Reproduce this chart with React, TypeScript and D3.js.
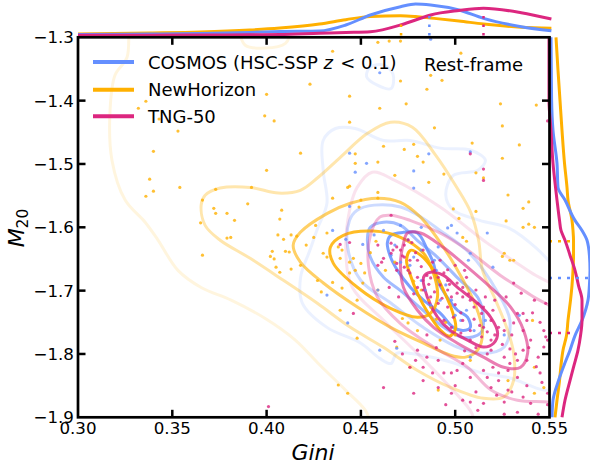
import React from 'react';
import * as d3 from 'd3';

// ---------- axis ticks ----------
const giniTicks = [0.3, 0.35, 0.4, 0.45, 0.5, 0.55];
const giniTickLabels = ['0.30', '0.35', '0.40', '0.45', '0.50', '0.55'];
const m20Ticks = [-1.3, -1.4, -1.5, -1.6, -1.7, -1.8, -1.9];
const m20TickLabels = ['\u22121.3', '\u22121.4', '\u22121.5', '\u22121.6', '\u22121.7', '\u22121.8', '\u22121.9'];

// ---------- samples: [Gini, M20] ----------
const cosmosPoints: [number, number][] = [
  [0.444, -1.483], [0.453, -1.499], [0.447, -1.513], [0.478, -1.511], [0.478, -1.538], [0.486, -1.484],
  [0.508, -1.481], [0.444, -1.567], [0.435, -1.605], [0.451, -1.627], [0.442, -1.619], [0.457, -1.612],
  [0.462, -1.605], [0.471, -1.597], [0.482, -1.6], [0.478, -1.647], [0.489, -1.652], [0.507, -1.652],
  [0.517, -1.609], [0.508, -1.641], [0.52, -1.663], [0.46, -1.356], [0.487, -1.303], [0.501, -1.609],
  [0.432, -1.707], [0.443, -1.751], [0.46, -1.794], [0.469, -1.791], [0.459, -1.699], [0.498, -1.597],
  [0.534, -1.739], [0.526, -1.77], [0.508, -1.805], [0.496, -1.601], [0.471, -1.655], [0.476, -1.66],
  [0.482, -1.684], [0.484, -1.699], [0.49, -1.668], [0.492, -1.715], [0.498, -1.715], [0.5, -1.739],
  [0.503, -1.747], [0.482, -1.636], [0.468, -1.628], [0.495, -1.691], [0.506, -1.731], [0.487, -1.723],
  [0.466, -1.644], [0.51, -1.763], [0.516, -1.747], [0.491, -1.631], [0.475, -1.62],
];

const newHorizonPoints: [number, number][] = [
  [0.336, -1.401], [0.332, -1.412], [0.343, -1.429], [0.353, -1.448], [0.34, -1.48], [0.338, -1.524],
  [0.34, -1.543], [0.336, -1.551], [0.354, -1.537], [0.373, -1.54], [0.366, -1.557], [0.372, -1.57],
  [0.373, -1.578], [0.379, -1.578], [0.39, -1.563], [0.392, -1.537], [0.4, -1.51], [0.418, -1.483],
  [0.408, -1.573], [0.407, -1.587], [0.383, -1.589], [0.365, -1.593], [0.423, -1.374], [0.4, -1.39],
  [0.399, -1.424], [0.404, -1.432], [0.379, -1.617], [0.381, -1.616], [0.366, -1.644], [0.406, -1.612],
  [0.409, -1.619], [0.413, -1.612], [0.403, -1.638], [0.41, -1.638], [0.412, -1.639], [0.402, -1.646],
  [0.404, -1.65], [0.405, -1.663], [0.407, -1.671], [0.413, -1.666], [0.425, -1.616], [0.426, -1.597],
  [0.427, -1.684], [0.459, -1.308], [0.465, -1.306], [0.471, -1.306], [0.435, -1.322], [0.503, -1.325],
  [0.485, -1.382], [0.493, -1.368], [0.487, -1.36], [0.471, -1.369], [0.444, -1.393], [0.474, -1.405],
  [0.46, -1.412], [0.524, -1.405], [0.543, -1.407], [0.444, -1.434], [0.525, -1.44], [0.489, -1.443],
  [0.462, -1.472], [0.473, -1.477], [0.478, -1.469], [0.48, -1.488], [0.483, -1.497], [0.447, -1.484],
  [0.447, -1.499], [0.459, -1.497], [0.468, -1.518], [0.444, -1.535], [0.486, -1.529], [0.494, -1.516],
  [0.511, -1.514], [0.534, -1.47], [0.525, -1.491], [0.539, -1.56], [0.528, -1.549], [0.45, -1.557],
  [0.459, -1.545], [0.509, -1.467], [0.515, -1.522], [0.536, -1.57], [0.527, -1.59], [0.536, -1.6],
  [0.539, -1.595], [0.511, -1.575], [0.499, -1.571], [0.502, -1.586], [0.435, -1.554], [0.443, -1.537],
  [0.459, -1.554], [0.449, -1.568], [0.432, -1.609], [0.525, -1.646], [0.531, -1.652], [0.504, -1.616],
  [0.506, -1.622], [0.416, -1.614], [0.43, -1.641], [0.432, -1.647], [0.438, -1.631], [0.44, -1.636],
  [0.439, -1.649], [0.444, -1.655], [0.446, -1.649], [0.45, -1.657], [0.444, -1.672], [0.447, -1.668],
  [0.452, -1.672], [0.451, -1.688], [0.435, -1.687], [0.44, -1.696], [0.429, -1.702], [0.448, -1.715],
  [0.459, -1.699], [0.439, -1.731], [0.448, -1.775], [0.443, -1.862], [0.438, -1.849], [0.472, -1.744],
  [0.475, -1.751], [0.48, -1.763], [0.469, -1.789], [0.476, -1.821], [0.491, -1.857], [0.508, -1.81],
  [0.528, -1.842], [0.542, -1.862], [0.541, -1.747], [0.542, -1.6], [0.526, -1.641], [0.529, -1.652],
  [0.542, -1.821], [0.547, -1.853], [0.486, -1.715], [0.487, -1.726], [0.495, -1.75], [0.5, -1.77],
  [0.492, -1.778], [0.482, -1.699], [0.468, -1.655], [0.463, -1.668], [0.455, -1.64], [0.458, -1.622],
  [0.421, -1.628], [0.418, -1.66], [0.478, -1.685], [0.49, -1.745],
];

const tngPoints: [number, number][] = [
  [0.439, -1.627], [0.444, -1.624], [0.446, -1.736], [0.459, -1.66], [0.461, -1.655], [0.466, -1.641],
  [0.467, -1.636], [0.469, -1.631], [0.473, -1.628], [0.475, -1.62], [0.477, -1.624], [0.469, -1.657],
  [0.473, -1.663], [0.475, -1.668], [0.476, -1.672], [0.48, -1.679], [0.483, -1.684], [0.485, -1.676],
  [0.487, -1.68], [0.491, -1.679], [0.494, -1.672], [0.492, -1.691], [0.496, -1.699], [0.498, -1.71],
  [0.501, -1.704], [0.504, -1.695], [0.508, -1.715], [0.512, -1.72], [0.515, -1.726], [0.514, -1.736],
  [0.519, -1.747], [0.523, -1.758], [0.515, -1.758], [0.508, -1.763], [0.504, -1.747], [0.499, -1.742],
  [0.496, -1.726], [0.491, -1.72], [0.487, -1.71], [0.483, -1.699], [0.48, -1.695], [0.494, -1.747],
  [0.498, -1.758], [0.503, -1.767], [0.508, -1.778], [0.514, -1.773], [0.519, -1.778], [0.526, -1.763],
  [0.531, -1.751], [0.536, -1.736], [0.538, -1.747], [0.547, -1.763], [0.548, -1.773], [0.547, -1.789],
  [0.544, -1.805], [0.536, -1.794], [0.533, -1.81], [0.526, -1.805], [0.52, -1.821], [0.515, -1.826],
  [0.517, -1.837], [0.523, -1.83], [0.528, -1.826], [0.533, -1.837], [0.538, -1.81], [0.545, -1.83],
  [0.508, -1.837], [0.504, -1.815], [0.501, -1.826], [0.498, -1.83], [0.491, -1.81], [0.485, -1.805],
  [0.483, -1.821], [0.48, -1.794], [0.476, -1.821], [0.462, -1.853], [0.483, -1.842], [0.491, -1.853],
  [0.498, -1.862], [0.508, -1.876], [0.515, -1.878], [0.526, -1.876], [0.533, -1.892], [0.54, -1.878],
  [0.549, -1.862], [0.466, -1.625], [0.471, -1.636], [0.473, -1.647], [0.469, -1.668], [0.476, -1.652],
  [0.483, -1.636], [0.489, -1.668], [0.496, -1.684], [0.501, -1.688], [0.504, -1.71], [0.51, -1.726],
  [0.52, -1.731], [0.526, -1.747], [0.533, -1.736], [0.536, -1.763], [0.54, -1.778], [0.549, -1.778],
  [0.529, -1.815], [0.523, -1.842], [0.519, -1.853], [0.528, -1.857], [0.536, -1.868], [0.504, -1.873],
  [0.512, -1.889], [0.519, -1.794], [0.466, -1.581], [0.459, -1.628], [0.462, -1.649], [0.48, -1.652],
  [0.549, -1.432], [0.515, -1.508], [0.515, -1.526], [0.508, -1.484], [0.401, -1.883], [0.531, -1.688],
  [0.535, -1.704], [0.542, -1.715], [0.527, -1.71], [0.492, -1.652], [0.5, -1.66], [0.506, -1.679],
  [0.511, -1.699], [0.516, -1.71], [0.521, -1.715], [0.482, -1.662], [0.486, -1.69], [0.489, -1.702],
  [0.493, -1.712], [0.497, -1.69], [0.5, -1.722], [0.503, -1.735], [0.507, -1.705], [0.51, -1.745],
  [0.513, -1.755], [0.517, -1.765], [0.521, -1.77], [0.525, -1.785], [0.529, -1.792], [0.532, -1.8],
  [0.517, -1.8], [0.511, -1.79], [0.505, -1.795], [0.53, -1.77], [0.539, -1.79], [0.543, -1.82],
  [0.546, -1.845], [0.538, -1.85], [0.53, -1.86], [0.522, -1.865], [0.511, -1.86], [0.5, -1.85],
  [0.494, -1.83], [0.488, -1.83], [0.479, -1.81], [0.472, -1.8], [0.468, -1.78], [0.485, -1.77],
  [0.49, -1.79], [0.545, -1.75], [0.541, -1.735], [0.548, -1.72], [0.549, -1.88], [0.544, -1.895],
  [0.526, -1.895], [0.495, -1.88], [0.478, -1.862], [0.47, -1.71], [0.465, -1.695], [0.478, -1.705],
  [0.472, -1.645], [0.479, -1.64], [0.488, -1.655], [0.496, -1.667], [0.505, -1.668],
];

// ---------- density contours: level index + closed outline in [Gini, M20] ----------
type Contour = { level: number; pts: [number, number][] };

const cosmosContours: Contour[] = [
  { level: 0, pts: [[0.43, -1.463], [0.4365, -1.444], [0.447, -1.444], [0.462, -1.463], [0.476, -1.463], [0.492, -1.475], [0.508, -1.478], [0.516, -1.494], [0.512, -1.51], [0.499, -1.518], [0.495, -1.549], [0.499, -1.573], [0.513, -1.589], [0.529, -1.602], [0.543, -1.633], [0.553, -1.665], [0.564, -1.715], [0.564, -1.826], [0.551, -1.857], [0.529, -1.838], [0.513, -1.829], [0.498, -1.813], [0.482, -1.802], [0.469, -1.799], [0.466, -1.815], [0.46, -1.807], [0.45, -1.783], [0.432, -1.758], [0.419, -1.72], [0.418, -1.679], [0.423, -1.636], [0.427, -1.602], [0.432, -1.562], [0.43, -1.51]] },
  { level: 0, pts: [[0.455, -1.347], [0.453, -1.362], [0.459, -1.376], [0.466, -1.381], [0.467, -1.358], [0.462, -1.344]] },
  { level: 1, pts: [[0.444, -1.589], [0.448, -1.573], [0.457, -1.565], [0.471, -1.568], [0.482, -1.584], [0.492, -1.605], [0.507, -1.639], [0.522, -1.7], [0.529, -1.747], [0.526, -1.789], [0.515, -1.799], [0.501, -1.789], [0.483, -1.758], [0.466, -1.72], [0.45, -1.684], [0.443, -1.632]] },
  { level: 2, pts: [[0.4535, -1.616], [0.455, -1.6], [0.462, -1.592], [0.471, -1.597], [0.48, -1.621], [0.4905, -1.647], [0.501, -1.679], [0.512, -1.711], [0.515, -1.742], [0.5135, -1.767], [0.504, -1.774], [0.494, -1.758], [0.483, -1.731], [0.471, -1.7], [0.462, -1.679], [0.455, -1.647]] },
  { level: 3, pts: [[0.464, -1.625], [0.4657, -1.613], [0.4725, -1.608], [0.48, -1.609], [0.4853, -1.636], [0.4885, -1.657], [0.4906, -1.684], [0.4959, -1.711], [0.5012, -1.731], [0.5065, -1.742], [0.508, -1.758], [0.5044, -1.763], [0.499, -1.758], [0.4922, -1.736], [0.4832, -1.715], [0.4763, -1.695], [0.4694, -1.668], [0.4657, -1.647]] },
];

const newHorizonContours: Contour[] = [
  { level: 0, pts: [[0.3276, -1.273], [0.326, -1.3316], [0.3196, -1.36], [0.317, -1.415], [0.318, -1.494], [0.325, -1.557], [0.3356, -1.592], [0.3425, -1.6205], [0.353, -1.668], [0.3653, -1.695], [0.3812, -1.715], [0.3993, -1.744], [0.4152, -1.778], [0.4274, -1.815], [0.4418, -1.857], [0.4524, -1.889], [0.4604, -1.936], [0.5878, -1.936], [0.5878, -1.2416], [0.4179, -1.2416], [0.4136, -1.286], [0.41, -1.3095], [0.3993, -1.317], [0.3887, -1.3126], [0.385, -1.286], [0.3807, -1.2416], [0.333, -1.2416]] },
  { level: 1, pts: [[0.3653, -1.565], [0.3674, -1.5495], [0.3754, -1.538], [0.3913, -1.537], [0.4062, -1.546], [0.4179, -1.5416], [0.4274, -1.521], [0.4391, -1.4895], [0.4535, -1.4516], [0.4657, -1.434], [0.4773, -1.442], [0.4896, -1.486], [0.5002, -1.534], [0.5082, -1.576], [0.5124, -1.6205], [0.5145, -1.668], [0.5214, -1.715], [0.5278, -1.7626], [0.531, -1.799], [0.531, -1.8416], [0.5257, -1.868], [0.515, -1.87], [0.4975, -1.8527], [0.48, -1.826], [0.4619, -1.7895], [0.4444, -1.758], [0.4269, -1.72], [0.4089, -1.6837], [0.3913, -1.649], [0.3754, -1.6205], [0.3674, -1.597]] },
  { level: 2, pts: [[0.4141, -1.6284], [0.4179, -1.608], [0.4322, -1.578], [0.4444, -1.562], [0.4588, -1.554], [0.471, -1.5605], [0.4816, -1.584], [0.4938, -1.6316], [0.5028, -1.676], [0.5108, -1.723], [0.5145, -1.767], [0.5119, -1.794], [0.5055, -1.805], [0.4975, -1.802], [0.4832, -1.783], [0.4657, -1.758], [0.4481, -1.726], [0.4301, -1.688], [0.4179, -1.655]] },
  { level: 3, pts: [[0.4338, -1.6316], [0.4407, -1.6126], [0.4566, -1.606], [0.471, -1.6158], [0.4832, -1.641], [0.4885, -1.6726], [0.4906, -1.7105], [0.4869, -1.7358], [0.48, -1.742], [0.4657, -1.728], [0.4481, -1.6947], [0.4354, -1.657]] },
  { level: 4, pts: [[0.4763, -1.6363], [0.4816, -1.644], [0.4885, -1.668], [0.4938, -1.6995], [0.4986, -1.734], [0.5002, -1.7595], [0.497, -1.772], [0.4922, -1.7626], [0.4858, -1.736], [0.4805, -1.7074], [0.4763, -1.676], [0.4742, -1.652]] },
];

const tngContours: Contour[] = [
  { level: 0, pts: [[0.448, -1.537], [0.456, -1.513], [0.468, -1.526], [0.492, -1.568], [0.517, -1.625], [0.54, -1.671], [0.561, -1.715], [0.567, -1.905], [0.5135, -1.921], [0.508, -1.889], [0.494, -1.842], [0.48, -1.799], [0.462, -1.747], [0.4455, -1.695], [0.442, -1.636], [0.444, -1.573]] },
  { level: 1, pts: [[0.46, -1.584], [0.4657, -1.581], [0.476, -1.589], [0.492, -1.609], [0.5065, -1.636], [0.524, -1.676], [0.54, -1.707], [0.5585, -1.747], [0.5585, -1.881], [0.549, -1.876], [0.533, -1.873], [0.519, -1.857], [0.5065, -1.821], [0.4885, -1.789], [0.471, -1.752], [0.4588, -1.7105], [0.454, -1.66], [0.455, -1.613]] },
  { level: 2, pts: [[0.4726, -1.625], [0.4747, -1.609], [0.4816, -1.609], [0.4938, -1.632], [0.5065, -1.663], [0.5188, -1.695], [0.5294, -1.726], [0.5363, -1.763], [0.5384, -1.799], [0.5347, -1.821], [0.5257, -1.821], [0.515, -1.805], [0.5012, -1.783], [0.4885, -1.758], [0.48, -1.731], [0.4726, -1.695], [0.471, -1.657]] },
  { level: 3, pts: [[0.4832, -1.679], [0.4869, -1.671], [0.4938, -1.676], [0.5012, -1.695], [0.5118, -1.72], [0.5188, -1.742], [0.5225, -1.767], [0.5204, -1.783], [0.515, -1.789], [0.5065, -1.778], [0.4975, -1.763], [0.4906, -1.742], [0.4853, -1.711]] },
];

// ---------- marginal densities ----------
const topGini = [0.3, 0.338, 0.365, 0.391, 0.407, 0.428, 0.442, 0.455, 0.471, 0.479, 0.487, 0.502, 0.515, 0.535, 0.551];
const cosmosGiniDensity = [0.03, 0.045, 0.06, 0.09, 0.119, 0.134, 0.313, 0.612, 0.86, 0.94, 0.91, 0.761, 0.513, 0.263, 0.143];
const newHorizonGiniDensity = [0.045, 0.075, 0.104, 0.164, 0.224, 0.343, 0.472, 0.57, 0.591, 0.567, 0.522, 0.433, 0.343, 0.248, 0.215];
const tngGiniDensity = [0.006, 0.009, 0.015, 0.021, 0.027, 0.066, 0.09, 0.113, 0.313, 0.463, 0.612, 0.746, 0.812, 0.681, 0.493];

const sideM20 = [-1.3, -1.352, -1.3995, -1.447, -1.499, -1.537, -1.557, -1.589, -1.605, -1.6205, -1.644, -1.668, -1.692, -1.715, -1.747, -1.771, -1.794, -1.818, -1.842, -1.873, -1.9];
const cosmosM20Density = [0.05, 0.058, 0.065, 0.1, 0.2, 0.225, 0.4, 0.65, 0.825, 0.95, 1.01, 1.025, 1.01, 0.975, 0.825, 0.65, 0.525, 0.375, 0.238, 0.1, 0.075];
const newHorizonM20Density = [0.175, 0.225, 0.275, 0.325, 0.388, 0.45, 0.475, 0.575, 0.6, 0.613, 0.613, 0.6, 0.575, 0.538, 0.475, 0.438, 0.35, 0.3, 0.263, 0.2, 0.15];
const tngM20Density = [0, 0, 0, 0.05, 0.1, 0.163, 0.2, 0.263, 0.3, 0.4, 0.525, 0.65, 0.738, 0.825, 0.825, 0.788, 0.725, 0.625, 0.525, 0.4, 0.325];

// medians marked in the marginals: [value, density height of marker]
const giniMedians: [number, number][] = [[0.4863, 0.612], [0.4713, 0.343], [0.515, 0.612]];
const m20Medians: [number, number][] = [[-1.68, 1.05], [-1.622, 0.6], [-1.767, 0.625]];

const seriesLabels = ['COSMOS', 'NewHorizon', 'TNG-50'];
const colors = ['#648FFF', '#FFB000', '#DC267F'];
const levelOpacity = [0.13, 0.32, 0.6, 0.85, 0.95];

const FONT = 'DejaVu Sans, sans-serif';

export default function App() {
  const W = 590, H = 470;
  const x = d3.scaleLinear().domain([0.3, 0.55]).range([78, 549.5]);
  const y = d3.scaleLinear().domain([-1.3, -1.9]).range([37.3, 417.3]);
  const yTop = d3.scaleLinear().domain([0, 1]).range([35.5, 2]);
  const xSide = d3.scaleLinear().domain([0, 1]).range([549, 589]);

  const contourPath = d3.line<[number, number]>()
    .x((d) => x(d[0]))
    .y((d) => y(d[1]))
    .curve(d3.curveCatmullRomClosed.alpha(0.5));

  const topLine = d3.line<number>()
    .x((_, i) => x(topGini[i]))
    .y((d) => yTop(d))
    .curve(d3.curveMonotoneX);
  const sideLine = d3.line<number>()
    .x((d) => xSide(d))
    .y((_, i) => y(sideM20[i]))
    .curve(d3.curveMonotoneY);

  const contourSets = [cosmosContours, newHorizonContours, tngContours];
  const pointSets = [newHorizonPoints, cosmosPoints, tngPoints];
  const pointColors = [colors[1], colors[0], colors[2]];
  const topDens = [cosmosGiniDensity, newHorizonGiniDensity, tngGiniDensity];
  const sideDens = [cosmosM20Density, newHorizonM20Density, tngM20Density];

  const [xa, xb] = x.range();
  const [ya, yb] = y.range();

  return (
    <svg width={W} height={H} style={{ position: 'absolute', left: 0, top: 0, background: '#fff' }}
      fontFamily={FONT}>
      <defs>
        <clipPath id="plotArea">
          <rect x={xa} y={ya} width={xb - xa} height={yb - ya} />
        </clipPath>
      </defs>

      {/* contours */}
      <g clipPath="url(#plotArea)" fill="none" strokeWidth={3} strokeLinejoin="round">
        {contourSets.map((set, si) => (
          <g key={si} stroke={colors[si]}>
            {set.map((c, ci) => (
              <path key={ci} d={contourPath(c.pts) || ''} strokeOpacity={levelOpacity[c.level]} />
            ))}
          </g>
        ))}
      </g>

      {/* points */}
      <g clipPath="url(#plotArea)">
        {pointSets.map((pts, si) => (
          <g key={si} fill={pointColors[si]} fillOpacity={0.8}>
            {pts.map((p, i) => (
              <circle key={i} cx={x(p[0])} cy={y(p[1])} r={1.6} />
            ))}
          </g>
        ))}
      </g>

      {/* top marginal: Gini */}
      <g fill="none" strokeWidth={3}>
        {[1, 0, 2].map((si) => (
          <path key={si} d={topLine(topDens[si]) || ''} stroke={colors[si]} />
        ))}
        {giniMedians.map((m, si) => (
          <line key={si} x1={x(m[0])} x2={x(m[0])} y1={yTop(0)} y2={yTop(m[1])}
            stroke={colors[si]} strokeWidth={2.5} strokeDasharray="2.5,6" />
        ))}
      </g>

      {/* right marginal: M20 */}
      <g fill="none" strokeWidth={3}>
        {[1, 0, 2].map((si) => (
          <path key={si} d={sideLine(sideDens[si]) || ''} stroke={colors[si]} />
        ))}
        {m20Medians.map((m, si) => (
          <line key={si} y1={y(m[0])} y2={y(m[0])} x1={xSide(0)} x2={xSide(m[1])}
            stroke={colors[si]} strokeWidth={2.5} strokeDasharray="3,6" />
        ))}
      </g>

      {/* frame */}
      <rect x={xa} y={ya} width={xb - xa} height={yb - ya} fill="none" stroke="#000" strokeWidth={2.7} />

      {/* ticks */}
      <g stroke="#000" strokeWidth={2.5}>
        {giniTicks.slice(1, -1).map((t) => (
          <g key={t}>
            <line x1={x(t)} x2={x(t)} y1={yb} y2={yb - 7.5} />
            <line x1={x(t)} x2={x(t)} y1={ya} y2={ya + 7.5} />
          </g>
        ))}
        {m20Ticks.slice(1, -1).map((t) => (
          <g key={t}>
            <line x1={xa} x2={xa + 7.5} y1={y(t)} y2={y(t)} />
            <line x1={xb} x2={xb - 7.5} y1={y(t)} y2={y(t)} />
          </g>
        ))}
      </g>

      {/* tick labels */}
      <g fontSize={16.7} fill="#000">
        {giniTicks.map((t, i) => (
          <text key={t} x={x(t)} y={434} textAnchor="middle">{giniTickLabels[i]}</text>
        ))}
        {m20Ticks.map((t, i) => (
          <text key={t} x={74} y={y(t) + 6} textAnchor="end">{m20TickLabels[i]}</text>
        ))}
      </g>

      {/* axis titles */}
      <text x={313} y={460} fontSize={22} fontStyle="italic" textAnchor="middle">Gini</text>
      <text transform="translate(24,228) rotate(-90)" textAnchor="middle" fontSize={22}>
        <tspan fontStyle="italic">M</tspan>
        <tspan fontSize={15.5} dy={4}>20</tspan>
      </text>

      {/* legend */}
      <g>
        {seriesLabels.map((s, i) => {
          const ly = [62, 89.7, 116.3][i];
          return (
            <g key={s}>
              <line x1={93} x2={134} y1={ly} y2={ly} stroke={colors[i]} strokeWidth={4} />
              <text x={148} y={ly + 6.5} fontSize={18}>
                {i === 0 ? (
                  <>
                    {'COSMOS (HSC-SSP '}
                    <tspan fontStyle="italic">z</tspan>
                    <tspan dx={1.5}>{' < 0.1)'}</tspan>
                  </>
                ) : s}
              </text>
            </g>
          );
        })}
        <text x={424} y={70.5} fontSize={18}>Rest-frame</text>
      </g>
    </svg>
  );
}
